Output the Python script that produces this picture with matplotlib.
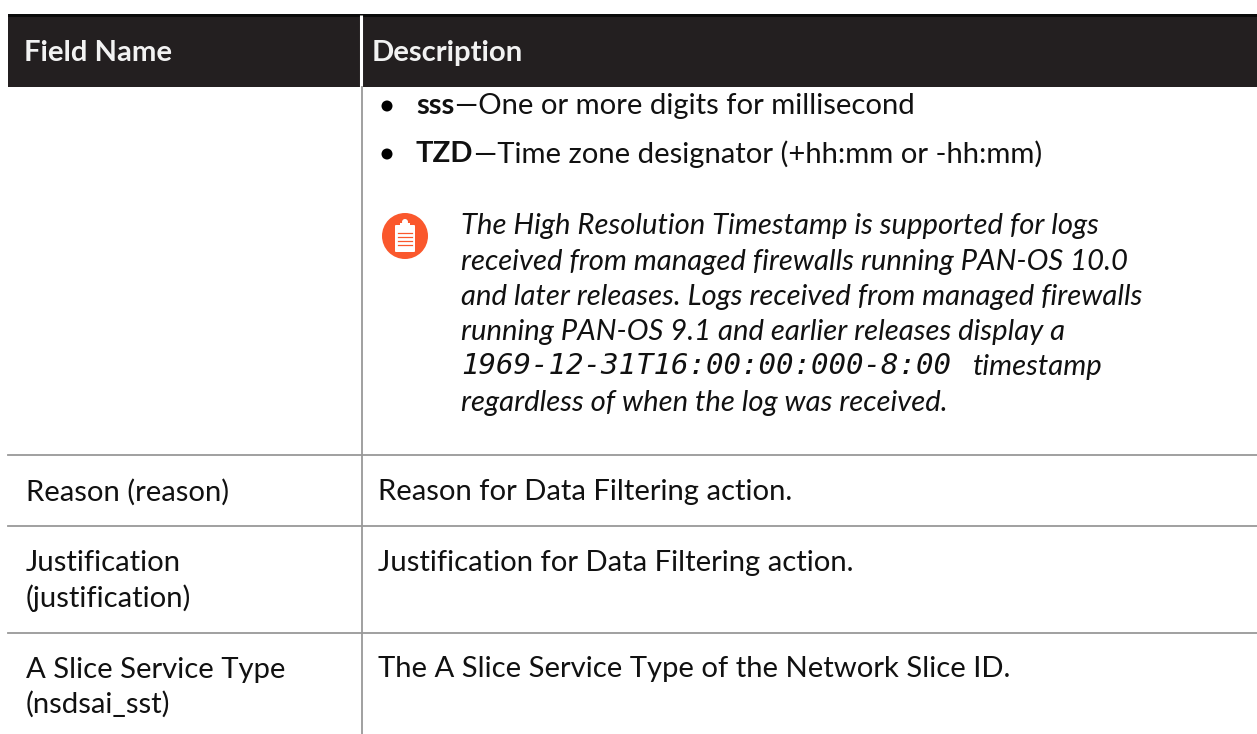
import matplotlib
matplotlib.use('Agg')
import matplotlib.pyplot as plt
from matplotlib.patches import Rectangle, Circle, FancyBboxPatch

# Размер картинки
W, H = 1257, 734

# Заголовки таблицы
headers = ['Field Name', 'Description']

# Маркированный список
bullet_bold = ['sss', 'TZD']
bullet_rest = ['—One or more digits for millisecond',
               '—Time zone designator (+hh:mm or -hh:mm)']

# Примечание
note_lines = ['The High Resolution Timestamp is supported for logs',
              'received from managed firewalls running PAN-OS 10.0',
              'and later releases. Logs received from managed firewalls',
              'running PAN-OS 9.1 and earlier releases display a']
note_mono = '1969-12-31T16:00:00:000-8:00'
note_after_mono = 'timestamp'
note_last = 'regardless of when the log was received.'

# Строки таблицы
field_names = ['Reason (reason)', 'Justification\n(justification)',
               'A Slice Service Type\n(nsdsai_sst)']
descriptions = ['Reason for Data Filtering action.',
                'Justification for Data Filtering action.',
                'The A Slice Service Type of the Network Slice ID.']

plt.rcParams['font.family'] = ['Lato', 'DejaVu Sans']

fig = plt.figure(figsize=(W / 100, H / 100), dpi=100)
ax = fig.add_axes([0, 0, 1, 1])
ax.set_xlim(0, W)
ax.set_ylim(H, 0)
ax.axis('off')

FS = 21.05
LINE = '#999999'
INK = '#111111'

# Шапка
ax.add_patch(Rectangle((8, 15), W - 8, 72, color='#231f20', lw=0))
ax.add_patch(Rectangle((8, 14), W - 8, 3, color='#0a0a0a', lw=0))
ax.plot([361, 361], [15, 87], color='white', lw=2.2, solid_capstyle='butt')
ax.text(24, 53, headers[0], color='#f2f2f2', fontsize=FS, fontweight='bold', va='center')
ax.text(372, 53, headers[1], color='#f2f2f2', fontsize=FS, fontweight='bold', va='center')

# Линии таблицы
ax.plot([361.5, 361.5], [87, 734], color=LINE, lw=1.3)
for y in [454.5, 526, 633]:
    ax.plot([8, W], [y, y], color=LINE, lw=1.3)

# Список
r = fig.canvas.get_renderer()
for name, rest, y in zip(bullet_bold, bullet_rest, [106, 154]):
    ax.add_patch(Circle((387, y), 5.5, color='black', lw=0))
    t = ax.text(416, y, name, fontsize=FS, fontweight='bold', color=INK, va='center')
    bb = t.get_window_extent(r)
    ax.text(bb.x1 + 1, y, rest, fontsize=FS, color=INK, va='center')

# Значок примечания
ax.add_patch(Circle((405, 236), 23, color='#fa582d', lw=0))
ax.add_patch(FancyBboxPatch((396, 226), 18, 25, boxstyle='round,pad=1', fc='white', ec='none'))
ax.add_patch(Circle((405, 222), 3, color='white', lw=0))
ax.add_patch(Rectangle((400, 223), 10, 3, color='white', lw=0))
for y in [233, 237, 241, 245]:
    ax.plot([398, 412], [y, y], color='#fa582d', lw=0.9)

# Текст примечания
for line, y in zip(note_lines, [226, 262, 297, 332]):
    ax.text(461, y, line, fontsize=FS, style='italic', color=INK, va='center')
ax.text(461, 366.5, note_mono, fontsize=21, style='italic', family='DejaVu Sans Mono',
        color=INK, va='center')
ax.text(973, 366.5, note_after_mono, fontsize=FS, style='italic', color=INK, va='center')
ax.text(461, 403, note_last, fontsize=FS, style='italic', color=INK, va='center')

# Строки таблицы
for name, desc, y, yd in zip(field_names, descriptions, [492, 581, 687], [492, 563, 669]):
    ax.text(26, y, name, fontsize=FS, color=INK, va='center', linespacing=1.37)
    ax.text(378, yd, desc, fontsize=FS, color=INK, va='center')

fig.savefig('out.png', dpi=100, facecolor='white')
